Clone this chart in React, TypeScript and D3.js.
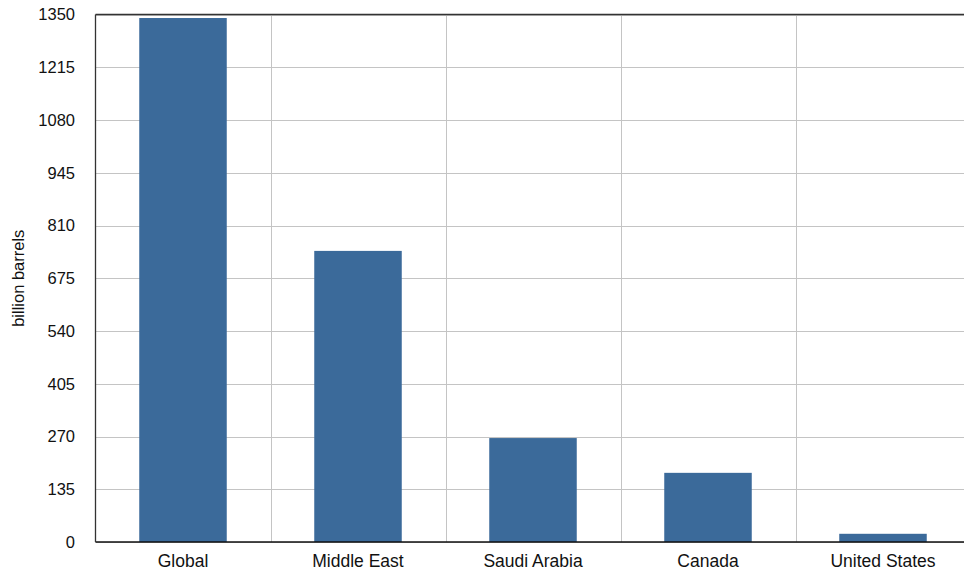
import React from "react";
import * as d3 from "d3";

const categories = ["Global", "Middle East", "Saudi Arabia", "Canada", "United States"];
const values = [1341, 745, 266, 177, 21];
const yTicks = [0, 135, 270, 405, 540, 675, 810, 945, 1080, 1215, 1350];
const yLabel = "billion barrels";

export default function App() {
  const W = 964, H = 571;
  const left = 95.5, top = 14.5, bottom = 542, right = 970.5;
  const x = d3.scaleBand<string>().domain(categories).range([left, right]).paddingInner(0).paddingOuter(0);
  const y = d3.scaleLinear().domain([0, 1350]).range([bottom, top]);
  const bw = x.bandwidth();
  const font = "'Liberation Sans', Arial, Helvetica, sans-serif";
  return (
    <svg width={W} height={H} style={{ position: "absolute", left: 0, top: 0 }} fontFamily={font}>
      <rect x={0} y={0} width={W} height={H} fill="#fff" />
      {yTicks.map((t) => (
        <line key={"g" + t} x1={left} x2={right} y1={Math.round(y(t)) + 0.5} y2={Math.round(y(t)) + 0.5} stroke="#c4c4c4" strokeWidth={1} />
      ))}
      {categories.slice(1).map((c) => (
        <line key={"v" + c} x1={Math.round(x(c)!) + 0.5} x2={Math.round(x(c)!) + 0.5} y1={top} y2={bottom} stroke="#c4c4c4" strokeWidth={1} />
      ))}
      {categories.map((c, i) => (
        <rect key={c} x={x(c)! + bw * 0.25} y={y(values[i])} width={bw * 0.5} height={bottom - y(values[i])} fill="#3b6a9a" />
      ))}
      <line x1={left} x2={right} y1={top} y2={top} stroke="#333" strokeWidth={1.3} />
      <line x1={left} x2={right} y1={bottom} y2={bottom} stroke="#111" strokeWidth={1.3} />
      <line x1={left} x2={left} y1={top} y2={bottom} stroke="#333" strokeWidth={1.3} />
      {yTicks.map((t) => (
        <text key={"t" + t} x={75} y={y(t)} dy="0.35em" textAnchor="end" fontSize={16.5} fill="#111">{t}</text>
      ))}
      {categories.map((c) => (
        <text key={"l" + c} x={x(c)! + bw / 2} y={567} textAnchor="middle" fontSize={17.5} fill="#111">{c}</text>
      ))}
      <text transform={`translate(24,${(top + bottom) / 2}) rotate(-90)`} textAnchor="middle" fontSize={16.5} fill="#111">{yLabel}</text>
    </svg>
  );
}
